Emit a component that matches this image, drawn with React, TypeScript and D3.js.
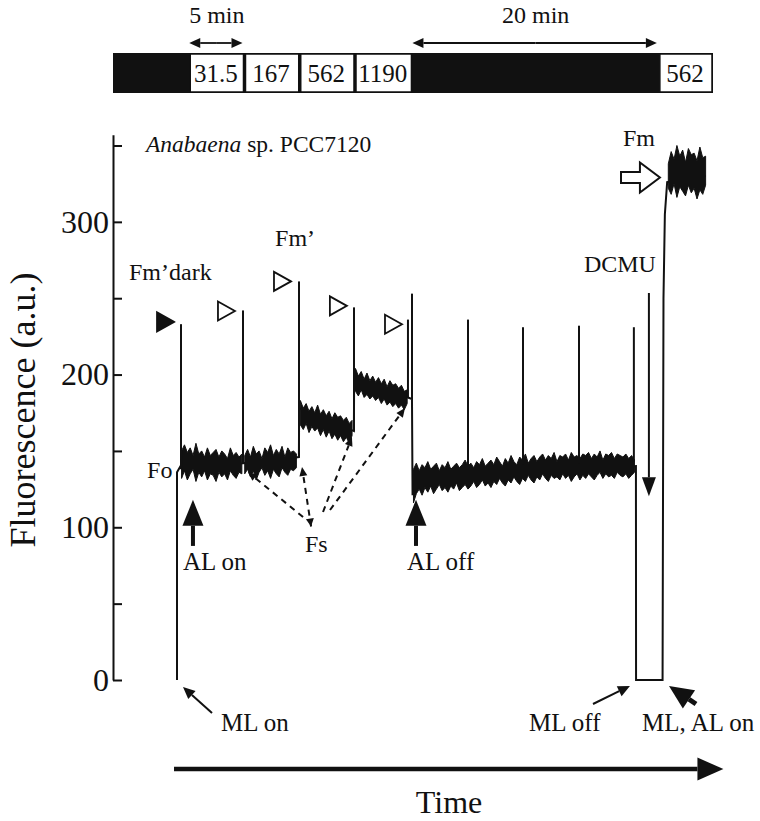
import React, { useEffect, useRef } from 'react';
import * as d3 from 'd3';

const W = 760;
const H = 821;
const FONT = '"Liberation Serif", "Times New Roman", Times, serif';

// y axis (a.u.)
const yTicks = [0, 50, 100, 150, 200, 250, 300, 350];
const yTickLabels = ['0', '', '100', '', '200', '', '300', ''];

// light schedule bar: length of each block (min) and AL intensity, null = dark
const barDurations = [6.9, 5, 5, 5, 5.2, 22.3, 4.9];
const barLabels = [null, '31.5', '167', '562', '1190', null, '562'];

// noisy parts of the trace: upper / lower edge of the band, one value every STEP min
const STEP = 0.25;
const segA = {
  start: 0.4,
  hi: [150, 154, 149, 152, 147, 155, 148, 150, 146, 152, 147, 149, 151, 146, 150, 148, 145, 152, 147, 149, 146, 148],
  lo: [132, 137, 131, 135, 138, 130, 136, 133, 137, 131, 135, 134, 130, 136, 133, 135, 131, 137, 134, 132, 136, 135]
};
const segB = {
  start: 5.9,
  hi: [147, 151, 146, 153, 148, 150, 145, 152, 149, 154, 147, 151, 148, 153, 146, 152, 149, 150, 148],
  lo: [135, 138, 133, 137, 131, 136, 139, 134, 137, 132, 138, 135, 133, 139, 136, 134, 138, 137, 139]
};
const segC = {
  start: 10.75,
  hi: [183, 178, 181, 176, 179, 175, 180, 174, 177, 173, 176, 171, 175, 172, 173, 170, 172, 168, 170],
  lo: [167, 164, 168, 162, 166, 163, 165, 160, 164, 159, 163, 158, 161, 157, 160, 156, 159, 155, 160]
};
const segD = {
  start: 15.55,
  hi: [204, 199, 202, 197, 201, 196, 199, 195, 198, 194, 197, 192, 196, 193, 194, 191, 193, 189, 190],
  lo: [189, 186, 190, 185, 187, 184, 186, 183, 185, 181, 184, 180, 182, 179, 181, 178, 180, 177, 181]
};
const segE = {
  start: 20.6,
  hi: [
    138, 142, 137, 141, 139, 143, 138, 140, 142, 137, 141, 139, 143, 138, 140, 142, 139, 141, 144, 140,
    142, 139, 143, 141, 145, 140, 142, 144, 141, 146, 143, 140, 145, 142, 147, 143, 141, 146, 144, 148,
    142, 145, 147, 143, 146, 148, 144, 147, 145, 149, 143, 147, 146, 148, 144, 149, 146, 147, 145, 148,
    147, 149, 145, 148, 146, 150, 144, 148, 147, 149, 145, 148, 147, 146, 148, 145, 147, 144
  ],
  lo: [
    116, 122, 125, 121, 126, 123, 127, 122, 125, 128, 124, 126, 123, 127, 125, 129, 124, 126, 128, 125,
    127, 130, 126, 128, 131, 127, 129, 126, 130, 128, 132, 129, 127, 131, 129, 133, 130, 128, 132, 130,
    134, 131, 129, 133, 131, 135, 132, 130, 134, 132, 133, 131, 135, 132, 134, 130, 133, 135, 131, 134,
    132, 135, 133, 131, 134, 136, 132, 135, 133, 134, 132, 136, 134, 133, 135, 132, 134, 136
  ]
};
const segF = {
  start: 42.8,
  hi: [338, 346, 341, 350, 343, 347, 339, 348, 344, 345, 340, 349, 342, 343],
  lo: [322, 318, 325, 316, 323, 320, 317, 324, 319, 322, 315, 321, 318, 324]
};

// trace through the steps [min, a.u.]
const traceKnots: [number, number][] = [
  [0, 0], [0, 136], [0.3, 140], [5.75, 142], [10.62, 146], [10.64, 178],
  [15.41, 163], [15.43, 196], [20.12, 185], [20.47, 184], [20.52, 121], [20.65, 130],
  [39.98, 140], [39.99, 0], [42.3, 0], [42.38, 250], [42.5, 305], [42.7, 326], [46.05, 330]
];

// saturating pulses
const spikeTimes = [0.35, 5.75, 10.63, 15.42, 20.12, 20.47, 25.35, 30.14, 35.02, 39.8];
const spikePeaks = [233, 242, 261, 244, 236, 253, 236, 231, 232, 231];
const spikeBases = [138, 142, 146, 163, 185, 184, 138, 141, 142, 143];

// triangles marking Fm'dark and Fm'
const markerTimes = [-0.26, 5.05, 9.93, 14.8, 19.6];
const markerValues = [234.5, 241.6, 261, 245, 233];
const markerFilled = [true, false, false, false, false];

// dashed pointers from the Fs label: [t0, v0, t1, v1]
const fsPointers = [
  [10.98, 106.7, 6.18, 136.2],
  [11.68, 100.5, 10.89, 139.5],
  [12.72, 110, 15.24, 159.1],
  [13.33, 111.3, 19.86, 178.1]
];

function App() {
  const ref = useRef<SVGSVGElement>(null);

  useEffect(() => {
    const svg = d3.select(ref.current);
    svg.selectAll('*').remove();

    const x = d3.scaleLinear().domain([0, 48]).range([177, 728]);
    const y = d3.scaleLinear().domain([0, 357]).range([680, 134.8]);

    const g = svg.append('g');

    // top light bar
    const barX = d3.scaleLinear().domain([0, d3.sum(barDurations)]).range([113, 713]);
    const cum = [0, ...d3.cumsum(barDurations)];
    g.append('rect')
      .attr('x', barX(0)).attr('y', 53)
      .attr('width', barX(cum[cum.length - 1]) - barX(0)).attr('height', 40)
      .attr('fill', '#111');
    barLabels.forEach((lab, i) => {
      if (lab === null) return;
      const x0 = barX(cum[i]), x1 = barX(cum[i + 1]);
      g.append('rect')
        .attr('x', x0 + 1).attr('y', 54)
        .attr('width', x1 - x0 - 2).attr('height', 38)
        .attr('fill', '#fff').attr('stroke', '#111').attr('stroke-width', 1.5);
      g.append('text')
        .attr('x', (x0 + x1) / 2 - 1).attr('y', 82)
        .attr('text-anchor', 'middle')
        .attr('font-size', 25)
        .text(lab);
    });

    const arrowHead = (x1: number, y1: number, x2: number, y2: number, len: number, wid: number) => {
      const a = Math.atan2(y2 - y1, x2 - x1);
      const bx = x2 - len * Math.cos(a), by = y2 - len * Math.sin(a);
      const px = -Math.sin(a) * wid / 2, py = Math.cos(a) * wid / 2;
      return { d: `M${x2},${y2}L${bx + px},${by + py}L${bx - px},${by - py}Z`, bx, by };
    };
    const arrow = (x1: number, y1: number, x2: number, y2: number, sw: number, len: number, wid: number, dash?: string) => {
      const h = arrowHead(x1, y1, x2, y2, len, wid);
      g.append('line')
        .attr('x1', x1).attr('y1', y1).attr('x2', h.bx).attr('y2', h.by)
        .attr('stroke', '#111').attr('stroke-width', sw)
        .attr('stroke-dasharray', dash || null);
      g.append('path').attr('d', h.d).attr('fill', '#111');
    };

    // double arrows over the bar
    const dbl = (a: number, b: number, label: string) => {
      const x0 = barX(cum[a]), x1 = barX(cum[b]);
      arrow((x0 + x1) / 2, 43, x0, 43, 1.8, 11, 10);
      arrow((x0 + x1) / 2, 43, x1 - 2, 43, 1.8, 11, 10);
      g.append('text')
        .attr('x', (x0 + x1) / 2).attr('y', 23)
        .attr('text-anchor', 'middle').attr('font-size', 24)
        .text(label);
    };
    dbl(1, 2, '5 min');
    dbl(5, 6, '20 min');

    // y axis, ticks inside
    const yAxis = d3.axisLeft(y)
      .tickValues(yTicks)
      .tickSizeInner(-9)
      .tickSizeOuter(0)
      .tickPadding(4)
      .tickFormat((d, i) => yTickLabels[i]);
    const ax = g.append('g').attr('transform', 'translate(113,0)').call(yAxis);
    ax.selectAll('path, line').attr('stroke', '#111').attr('stroke-width', 2);
    ax.selectAll('text')
      .attr('font-size', 32).attr('font-family', FONT).attr('fill', '#111');

    g.append('text')
      .attr('transform', 'translate(35,410) rotate(-90)')
      .attr('text-anchor', 'middle')
      .attr('font-size', 36)
      .text('Fluorescence (a.u.)');

    // trace: thin line through the steps, noisy band on top
    const line = d3.line<[number, number]>().x(d => x(d[0])).y(d => y(d[1]));
    g.append('path')
      .attr('d', line(traceKnots))
      .attr('fill', 'none').attr('stroke', '#111')
      .attr('stroke-width', 2);

    [segA, segB, segC, segD, segE, segF].forEach(s => {
      const band = d3.area<number>()
        .x((d, i) => x(s.start + i * STEP))
        .y0((d, i) => y(s.lo[i]))
        .y1(d => y(d));
      g.append('path')
        .attr('d', band(s.hi))
        .attr('fill', '#111').attr('stroke', '#111')
        .attr('stroke-width', 1).attr('stroke-linejoin', 'miter');
    });

    spikeTimes.forEach((t, i) => {
      g.append('line')
        .attr('x1', x(t)).attr('x2', x(t))
        .attr('y1', y(spikeBases[i])).attr('y2', y(spikePeaks[i]))
        .attr('stroke', '#111').attr('stroke-width', 2);
    });

    // markers
    markerTimes.forEach((t, i) => {
      const tx = x(t), ty = y(markerValues[i]);
      g.append('path')
        .attr('d', `M${tx},${ty}L${tx - 17},${ty - 9.5}L${tx - 17},${ty + 9.5}Z`)
        .attr('fill', markerFilled[i] ? '#111' : '#fff')
        .attr('stroke', '#111').attr('stroke-width', 1.8)
        .attr('stroke-linejoin', 'miter');
    });

    // Fs pointers
    fsPointers.forEach(p => {
      arrow(x(p[0]), y(p[1]), x(p[2]), y(p[3]), 2, 9, 8, '6,5');
    });
    {
      const p = fsPointers[1];
      const h = arrowHead(x(p[2]), y(p[3]), x(p[0]), y(p[1]), 8, 8);
      g.append('path').attr('d', h.d).attr('fill', '#111');
    }

    // AL on / AL off arrows
    const upArrow = (t: number) => {
      const cx = x(t);
      g.append('rect')
        .attr('x', cx - 2).attr('y', y(101))
        .attr('width', 4).attr('height', y(87.8) - y(101))
        .attr('fill', '#111');
      g.append('path')
        .attr('d', `M${cx},${y(118)}L${cx - 10.5},${y(101)}L${cx + 10.5},${y(101)}Z`)
        .attr('fill', '#111');
    };
    upArrow(1.39);
    upArrow(20.82);

    // DCMU arrow
    arrow(x(41.11), y(253.4), x(41.11), y(120.3), 2, 19, 14);

    // Fm open block arrow
    {
      const tx = x(42.07), ty = y(329);
      const tl = x(38.68);
      const hb = tx - 20;
      g.append('path')
        .attr('d', `M${tl},${ty - 5.5}L${hb},${ty - 5.5}L${hb},${ty - 15}L${tx},${ty}L${hb},${ty + 15}L${hb},${ty + 5.5}L${tl},${ty + 5.5}Z`)
        .attr('fill', '#fff').attr('stroke', '#111').attr('stroke-width', 2)
        .attr('stroke-linejoin', 'miter');
    }

    // ML arrows
    arrow(x(3.05), y(-21.6), x(0.52), y(-4.6), 2, 12, 11);
    arrow(x(36.24), y(-15.7), x(39.46), y(-3.9), 2, 12, 11);
    arrow(x(45.21), y(-15.7), x(42.86), y(-3.9), 5, 24, 22);

    // time arrow
    arrow(x(-0.26), y(-58.3), x(47.6), y(-58.3), 4.5, 26, 23);

    const label = (t: number, v: number, s: string, size = 24, anchor = 'start') =>
      g.append('text')
        .attr('x', x(t)).attr('y', y(v))
        .attr('text-anchor', anchor)
        .attr('font-size', size)
        .text(s);

    const sp = label(-2.7, 345.8, '', 23.5);
    sp.append('tspan').attr('font-style', 'italic').text('Anabaena');
    sp.append('tspan').text(' sp. PCC7120');

    label(-4.18, 262, 'Fm’dark');
    label(8.54, 284.2, 'Fm’');
    label(-2.61, 132.3, 'Fo');
    label(11.15, 83.8, 'Fs');
    label(0.52, 72, 'AL on', 25);
    label(20.03, 72, 'AL off', 25);
    label(35.45, 267.2, 'DCMU');
    label(38.85, 349.7, 'Fm');
    label(3.83, -33.4, 'ML on', 25);
    label(30.66, -33.4, 'ML off', 25);
    label(40.51, -33.4, 'ML, AL on', 25);
    label(23.7, -86.8, 'Time', 32, 'middle');
  }, []);

  return (
    <svg
      ref={ref}
      width={W}
      height={H}
      style={{ position: 'absolute', left: 0, top: 0, background: '#fff' }}
      fontFamily={FONT}
      fill="#111"
    />
  );
}

export default App;
